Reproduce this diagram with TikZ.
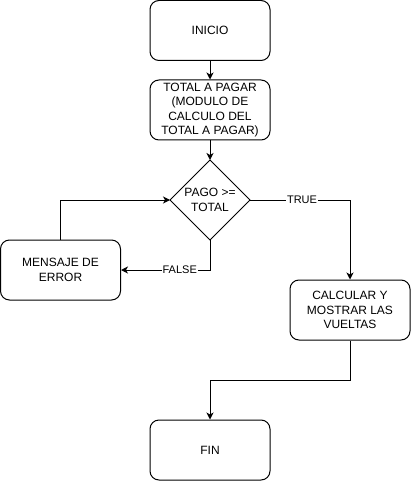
\documentclass[tikz,border=0pt]{standalone}
\usepackage{fontspec}
\setmainfont{Liberation Sans}
\usetikzlibrary{arrows.meta}
\begin{document}
\begin{tikzpicture}[x=1pt,y=-1pt,
  box/.style={draw,line width=1pt,rounded corners=9pt,minimum width=120pt,minimum height=60pt,align=center,font=\fontsize{12}{14.4}\selectfont,inner sep=0pt},
  conn/.style={line width=1pt,-{Stealth[length=7pt,width=7pt,inset=2pt]}},
  lbl/.style={fill=white,font=\fontsize{11}{13}\selectfont,inner sep=1pt}]
\useasboundingbox (0,0) rectangle (411,481);
\node[box] (ini) at (210,30.5) {INICIO};
\node[box] (tot) at (210,110) {TOTAL A PAGAR\\(MODULO DE\\CALCULO DEL\\TOTAL A PAGAR)};
\coordinate (dL) at (170,200);
\coordinate (dR) at (250,200);
\coordinate (dT) at (210,160);
\coordinate (dB) at (210,240);
\draw[line width=1pt] (dL) -- (dT) -- (dR) -- (dB) -- cycle;
\node[font=\fontsize{12}{15}\selectfont,align=center] (dct) at (210,200) {PAGO >=\\TOTAL};
\node[box] (err) at (60.5,270) {MENSAJE DE\\ERROR};
\node[box] (cal) at (350,310) {CALCULAR Y\\MOSTRAR LAS\\VUELTAS};
\node[box] (fin) at (210,450) {FIN};
\draw[conn] (ini) -- (tot);
\draw[conn] (tot) -- (dT);
\draw[conn] (dR) -| node[lbl,pos=0.26] {TRUE} (cal);
\draw[conn] (dB) |- node[lbl,pos=0.67] {FALSE} (err);
\draw[conn] (err.north) |- (dL);
\coordinate (m) at (350,380);
\draw[conn] (cal.south) -- (m) -| (fin.north);
\end{tikzpicture}
\end{document}
